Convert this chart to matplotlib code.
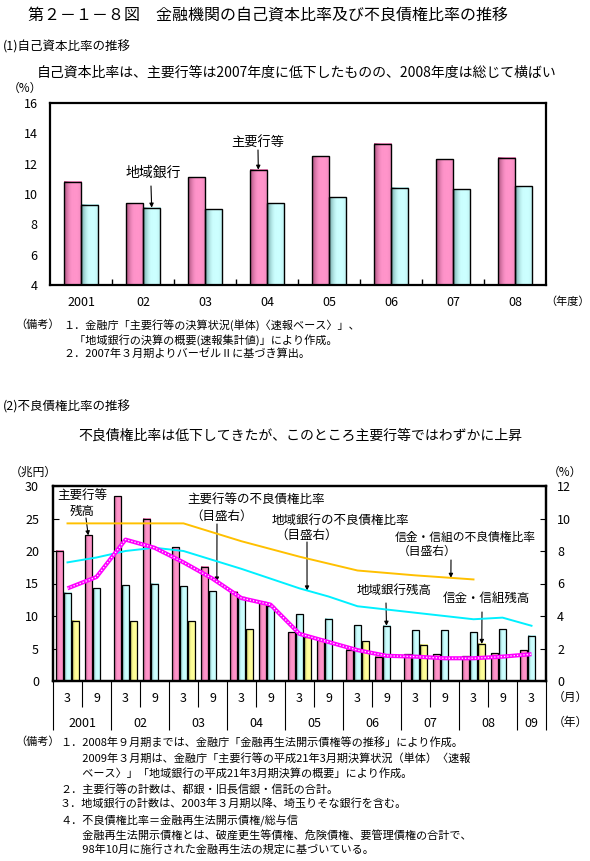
import numpy as np
import matplotlib
matplotlib.use('Agg')
import matplotlib.pyplot as plt
import matplotlib.colors as mcolors

plt.rcParams['font.family'] = ['Noto Sans CJK JP', 'DejaVu Sans']

# ---------------- data ----------------
# (1) capital adequacy ratio (%)
years_top = ['2001', '02', '03', '04', '05', '06', '07', '08']
main_car = [10.8, 9.4, 11.1, 11.6, 12.5, 13.3, 12.3, 12.4]
regional_car = [9.3, 9.1, 9.0, 9.4, 9.8, 10.4, 10.3, 10.5]

# (2) non-performing loans (balance: trillion yen, ratio: %)
months = ['3', '9', '3', '9', '3', '9', '3', '9', '3', '9', '3', '9', '3', '9', '3', '9', '3']
year_labels = ['2001', '02', '03', '04', '05', '06', '07', '08', '09']
nan = np.nan
main_bal = [20.0, 22.4, 28.4, 25.0, 20.6, 17.6, 13.7, 12.1, 7.5, 6.4, 4.8, 3.7, 4.1, 4.1, 3.8, 4.3, 4.7]
regional_bal = [13.6, 14.3, 14.7, 15.0, 14.6, 13.8, 12.9, 11.5, 10.3, 9.6, 8.6, 8.5, 7.8, 7.8, 7.5, 8.0, 7.0]
shinkin_bal = [9.3, nan, 9.2, nan, 9.2, nan, 8.0, nan, 6.8, nan, 6.1, nan, 5.6, nan, 5.7, nan, nan]
main_ratio = [5.7, 6.4, 8.7, 8.2, 7.3, 6.3, 5.1, 4.7, 2.9, 2.4, 1.9, 1.55, 1.5, 1.4, 1.4, 1.5, 1.65]
regional_ratio = [7.3, 7.6, 8.0, 8.2, 8.0, 7.45, 6.9, 6.3, 5.7, 5.2, 4.6, 4.4, 4.2, 4.0, 3.8, 3.9, 3.4]
shinkin_ratio = [9.7, nan, 9.7, nan, 9.7, nan, 8.6, nan, 7.65, nan, 6.8, nan, 6.5, nan, 6.25, nan, nan]

# ---------------- helpers ----------------
W, H = 590, 861
fig = plt.figure(figsize=(W / 100, H / 100), dpi=100)


def fx(x):
    return x / W


def fy(y):
    return 1 - y / H


def ftext(x, y, s, size=8, ha='left', **kw):
    fig.text(fx(x), fy(y), s, va='center', ha=ha, fontsize=size, **kw)


def rect_axes(l, t, r, b):
    return fig.add_axes([fx(l), fy(b), (r - l) / W, (b - t) / H])


def shade(ax, bars, light, dark):
    light = np.array(mcolors.to_rgb(light))
    dark = np.array(mcolors.to_rgb(dark))
    t = np.linspace(0, 1, 64)
    f = np.sin(np.clip(t / 0.5, 0, 1) * np.pi / 2)
    f = f - 0.15 * np.clip((t - 0.75) / 0.25, 0, 1)
    cols = dark[None, :] + (light - dark)[None, :] * f[:, None]
    img = cols[None, :, :]
    for r in bars:
        h = r.get_height()
        if not np.isfinite(h):
            continue
        ax.imshow(img, extent=[r.get_x(), r.get_x() + r.get_width(), r.get_y(), r.get_y() + h],
                  aspect='auto', interpolation='bilinear', zorder=2)


def arrow(ax, xy, start_px):
    ax.annotate('', xy=xy, xycoords='data', xytext=(fx(start_px[0]), fy(start_px[1])),
                textcoords='figure fraction',
                arrowprops=dict(arrowstyle='-|>', color='black', lw=0.8, mutation_scale=6,
                                shrinkA=0, shrinkB=0), annotation_clip=False)


PINK_L, PINK_D = '#FF94CA', '#A8507C'
CYAN_L, CYAN_D = '#CCFFFF', '#6FA3A3'
YEL_L, YEL_D = '#FFFF99', '#A8A85A'

# ---------------- header texts ----------------
ftext(28, 15, '第２－１－８図　金融機関の自己資本比率及び不良債権比率の推移', size=11.5)
ftext(3, 47, '(1)自己資本比率の推移', size=9)
ftext(37, 73, '自己資本比率は、主要行等は2007年度に低下したものの、2008年度は総じて横ばい', size=10)
ftext(25, 88, '（%）', size=8.5, ha='center')

# ---------------- top chart ----------------
ax1 = rect_axes(50, 103, 546, 285)
x = np.arange(len(years_top))
bw = 0.28
b1 = ax1.bar(x - bw / 2, main_car, bw, facecolor='none', edgecolor='black', lw=1, zorder=3)
b2 = ax1.bar(x + bw / 2, regional_car, bw, facecolor='none', edgecolor='black', lw=1, zorder=3)
shade(ax1, b1, PINK_L, PINK_D)
shade(ax1, b2, CYAN_L, CYAN_D)
ax1.set_xlim(-0.5, len(years_top) - 0.5)
ax1.set_ylim(4, 16)
ax1.set_yticks(range(4, 17, 2))
ax1.set_xticks(x, years_top)
ax1.set_xticks(x[:-1] + 0.5, minor=True)
ax1.tick_params(axis='x', which='major', length=0, pad=8, labelsize=9)
ax1.tick_params(axis='x', which='minor', direction='in', length=4, width=1)
ax1.tick_params(axis='y', length=0, pad=9, labelsize=9)
for s in ax1.spines.values():
    s.set_linewidth(1.6)
ftext(568, 302, '（年度）', size=8, ha='center')

# annotations top
r = b2[1]
ftext(153, 173, '地域銀行', size=10, ha='center')
arrow(ax1, (r.get_x() + r.get_width() / 2, r.get_height()), (151, 186))
r = b1[3]
ftext(258, 142, '主要行等', size=9.5, ha='center')
arrow(ax1, (r.get_x() + r.get_width() / 2, r.get_height()), (258, 150))

# top notes
ftext(15, 325, '（備考）', size=8)
ftext(63, 325, '１．金融庁「主要行等の決算状況(単体)〈速報ベース〉」、', size=8)
ftext(63, 340, '　「地域銀行の決算の概要(速報集計値)」により作成。', size=8)
ftext(63, 354, '２．2007年３月期よりバーゼルⅡに基づき算出。', size=8)

ftext(3, 407, '(2)不良債権比率の推移', size=9)
ftext(300, 436, '不良債権比率は低下してきたが、このところ主要行等ではわずかに上昇', size=10, ha='center')
ftext(33, 472, '（兆円）', size=8.5, ha='center')
ftext(565, 472, '（%）', size=8.5, ha='center')

# ---------------- bottom chart ----------------
ax = rect_axes(53, 486, 546, 681)
ax2 = ax.twinx()
p = np.arange(len(months))
bw2 = 0.25
off = 0.285
c1 = ax.bar(p - off, main_bal, bw2, facecolor='none', edgecolor='black', lw=0.9, zorder=3)
c2 = ax.bar(p, regional_bal, bw2, facecolor='none', edgecolor='black', lw=0.9, zorder=3)
c3 = ax.bar(p + off, shinkin_bal, bw2, facecolor='none', edgecolor='black', lw=0.9, zorder=3)
shade(ax, c1, PINK_L, PINK_D)
shade(ax, c2, CYAN_L, CYAN_D)
shade(ax, c3, YEL_L, YEL_D)
ax.set_xlim(-0.5, len(months) - 0.5)
ax.set_ylim(0, 30)
ax.set_yticks(range(0, 31, 5))
ax2.set_ylim(0, 12)
ax2.set_yticks(range(0, 13, 2))

sr = np.array(shinkin_ratio)
m = ~np.isnan(sr)
ax2.plot(p[m], sr[m], color='#FFC000', lw=1.4, zorder=4)
ax2.plot(p, regional_ratio, color='#00F0FF', lw=1.4, zorder=4)
ax2.plot(p, main_ratio, color='#FF00FF', lw=3.0, zorder=5, solid_capstyle='butt')
ax2.plot(p, main_ratio, color='white', lw=0.9, ls=(0, (1, 1.6)), zorder=6)

ax.set_xticks(p, months)
ax.tick_params(axis='x', which='major', length=0, pad=8, labelsize=9)
ax.set_xticks(np.arange(0.5, len(months) - 1, 2), minor=True)
ax.tick_params(axis='x', which='minor', direction='out', length=19, width=0.8)
ax.tick_params(axis='y', direction='in', length=4, pad=10, labelsize=9)
ax2.tick_params(axis='y', direction='in', length=4, pad=8, labelsize=9)
for a in (ax, ax2):
    for s in a.spines.values():
        s.set_linewidth(1.6)

year_idx = p // 2
year_centers = [p[year_idx == k].mean() for k in range(len(year_labels))]
year_bounds = [p[year_idx == k].min() - 0.5 for k in range(len(year_labels))] + [p[-1] + 0.5]
sec = ax.secondary_xaxis('bottom')
sec.set_xticks(year_centers, year_labels)
sec.tick_params(length=0, pad=26, labelsize=9)
sec.spines['bottom'].set_visible(False)
secb = ax.secondary_xaxis('bottom')
secb.set_xticks(year_bounds, [''] * len(year_bounds))
secb.tick_params(length=35, width=0.8, direction='out')
secb.spines['bottom'].set_visible(False)
ftext(570, 697, '（月）', size=8.5, ha='center')
ftext(570, 722, '（年）', size=8.5, ha='center')

# annotations bottom
def bar_top(rect):
    return (rect.get_x() + rect.get_width() / 2, rect.get_height())

ftext(82, 496, '主要行等', size=9, ha='center')
ftext(82, 511, '残高', size=9, ha='center')
arrow(ax, bar_top(c1[1]), (86, 518))

ftext(187, 500, '主要行等の不良債権比率', size=9)
ftext(190, 516, '（目盛右）', size=9)
xa = 5.15
arrow(ax2, (xa, np.interp(xa, p, main_ratio)), (217, 524))

ftext(272, 520, '地域銀行の不良債権比率', size=9)
ftext(275, 535, '（目盛右）', size=9)
xa = 8.26
arrow(ax2, (xa, np.interp(xa, p, regional_ratio)), (307, 542))

ftext(395, 537, '信金・信組の不良債権比率', size=8.5)
ftext(398, 551, '（目盛右）', size=8.5)
xa = 13.22
arrow(ax2, (xa, np.interp(xa, p[m], sr[m])), (451, 560))

ftext(357, 590, '地域銀行残高', size=9)
arrow(ax, bar_top(c2[11]), (386, 603))
ftext(443, 598, '信金・信組残高', size=9)
arrow(ax, bar_top(c3[14]), (482, 612))

# bottom notes
notes = [
    (742, '１．2008年９月期までは、金融庁「金融再生法開示債権等の推移」により作成。'),
    (758, '　　2009年３月期は、金融庁「主要行等の平成21年3月期決算状況（単体）〈速報'),
    (773, '　　ベース〉」「地域銀行の平成21年3月期決算の概要」により作成。'),
    (789, '２．主要行等の計数は、都銀・旧長信銀・信託の合計。'),
    (804, '３．地域銀行の計数は、2003年３月期以降、埼玉りそな銀行を含む。'),
    (820, '４．不良債権比率＝金融再生法開示債権/総与信'),
    (835, '　　金融再生法開示債権とは、破産更生等債権、危険債権、要管理債権の合計で、'),
    (849, '　　98年10月に施行された金融再生法の規定に基づいている。'),
]
ftext(15, 742, '（備考）', size=8)
for yy, s in notes:
    ftext(60, yy, s, size=8)

fig.savefig('out.png', dpi=100)
